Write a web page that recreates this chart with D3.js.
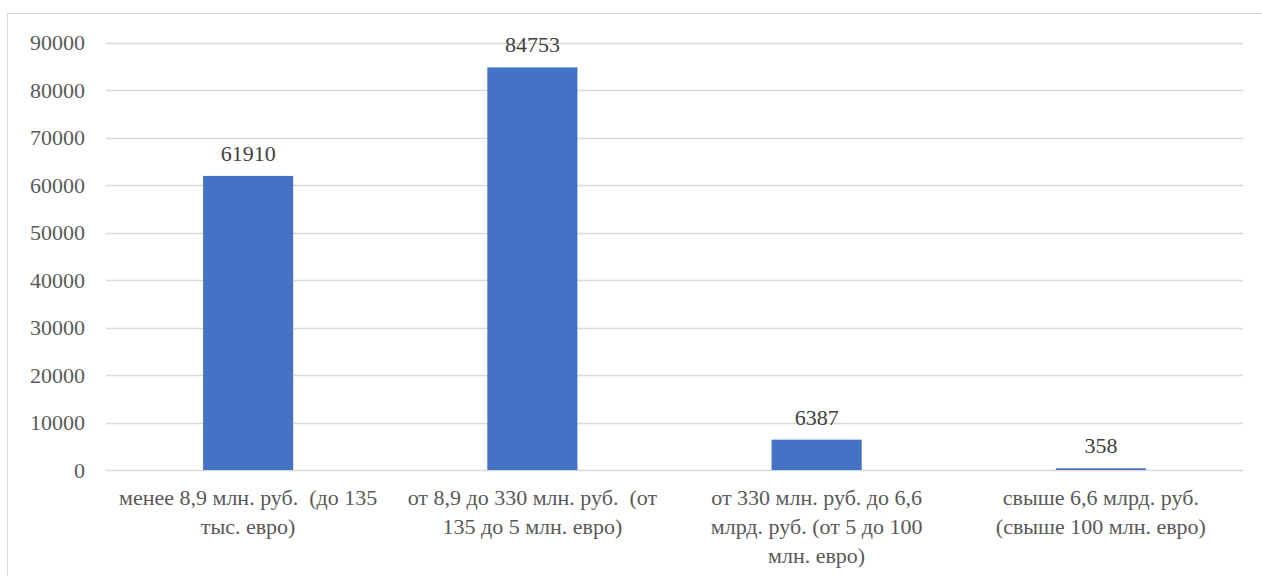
<!DOCTYPE html>
<html><head><meta charset="utf-8">
<script src="https://cdn.jsdelivr.net/npm/d3@7"></script>
<style>html,body{margin:0;padding:0;background:#fff;}svg{display:block;}
svg text{font-family:"Liberation Serif","Times New Roman","DejaVu Serif",serif;}</style>
</head><body>
<svg id="chart" width="1262" height="576"></svg>
<script>
const categories = [
  "менее 8,9 млн. руб.  (до 135\nтыс. евро)",
  "от 8,9 до 330 млн. руб.  (от\n135 до 5 млн. евро)",
  "от 330 млн. руб. до 6,6\nмлрд. руб. (от 5 до 100\nмлн. евро)",
  "свыше 6,6 млрд. руб.\n(свыше 100 млн. евро)"
];
const values = [61910, 84753, 6387, 358];
const yTicks = [0, 10000, 20000, 30000, 40000, 50000, 60000, 70000, 80000, 90000];

const svg = d3.select("#chart");
const fs = 22;

svg.append("rect").attr("x", 7.5).attr("y", 13.5).attr("width", 1262).attr("height", 580)
  .attr("fill", "#fff").attr("stroke", "#d9d9d9").attr("stroke-width", 1);

const x = d3.scaleBand().domain(categories).range([106, 1243]).paddingInner(0.683).paddingOuter(0.3415);
const xc = d3.scaleBand().domain(categories).range([106, 1243]);
const y = d3.scaleLinear().domain([0, 90000]).range([470, 42.5]);

// gridlines
svg.append("g").selectAll("line").data(yTicks).join("line")
  .attr("x1", 106).attr("x2", 1243)
  .attr("y1", d => Math.round(y(d)) + 0.5).attr("y2", d => Math.round(y(d)) + 0.5)
  .attr("stroke", "#d9d9d9").attr("stroke-width", 1.3);

// y axis
const yAxis = d3.axisLeft(y).tickValues(yTicks).tickSize(0).tickPadding(0).tickFormat(d3.format("d"));
const ga = svg.append("g").attr("transform", "translate(85,0)").call(yAxis);
ga.select(".domain").remove();
ga.attr("font-family", null).attr("font-size", null);
ga.selectAll("text").style("font-size", fs + "px").attr("fill", "#595959");

// bars
svg.append("g").selectAll("rect").data(values).join("rect")
  .attr("x", (d, i) => x(categories[i]))
  .attr("width", x.bandwidth())
  .attr("y", d => y(d))
  .attr("height", d => y(0) - y(d))
  .attr("fill", "#4472c4");

// value labels
svg.append("g").selectAll("text").data(values).join("text")
  .attr("x", (d, i) => xc(categories[i]) + xc.bandwidth() / 2)
  .attr("y", d => y(d) - 15)
  .attr("text-anchor", "middle")
  .style("font-size", fs + "px").attr("fill", "#404040")
  .text(d => d);

// category labels
const cl = svg.append("g").selectAll("text").data(categories).join("text")
  .attr("x", d => xc(d) + xc.bandwidth() / 2)
  .attr("y", 505)
  .attr("text-anchor", "middle")
  .style("font-size", fs + "px").attr("fill", "#595959")
  .style("white-space", "pre");
cl.selectAll("tspan").data(d => d.split("\n").map(t => ({t, c: d}))).join("tspan")
  .attr("x", d => xc(d.c) + xc.bandwidth() / 2)
  .attr("dy", (d, i) => i === 0 ? 0 : 29)
  .text(d => d.t);
</script>
</body></html>
